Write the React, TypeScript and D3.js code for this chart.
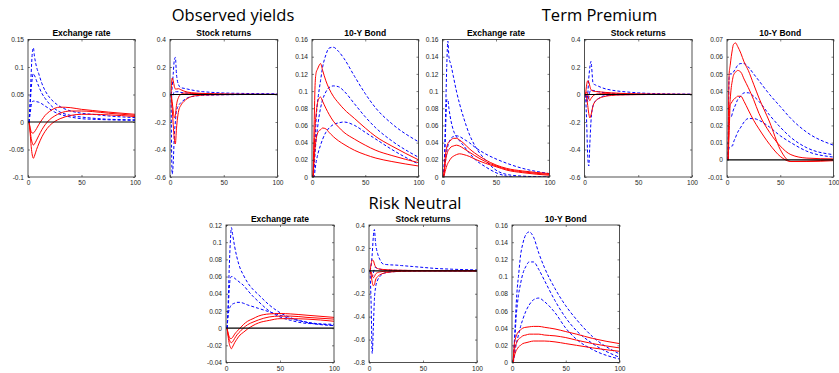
import React, { useEffect, useRef } from "react";
import * as d3 from "d3";

const steps = [1, 2, 3, 4, 5, 6, 8, 10, 13, 16, 20, 25, 30, 40, 50, 60, 75, 100];
const xTicks = [0, 50, 100];

// Observed yields
const obsFxRed = [
  [0, -0.01, -0.018, -0.02, -0.02, -0.018, -0.012, -0.005, 0.004, 0.012, 0.019, 0.025, 0.027, 0.026, 0.023, 0.021, 0.018, 0.014],
  [0, -0.015, -0.03, -0.038, -0.042, -0.04, -0.033, -0.025, -0.014, -0.005, 0.004, 0.011, 0.016, 0.02, 0.02, 0.019, 0.016, 0.012],
  [0, -0.02, -0.045, -0.06, -0.066, -0.062, -0.05, -0.04, -0.027, -0.017, -0.007, 0.001, 0.006, 0.012, 0.014, 0.014, 0.013, 0.01],
];
const obsFxBlue = [
  [0, 0.04, 0.09, 0.125, 0.135, 0.12, 0.1, 0.088, 0.07, 0.057, 0.045, 0.035, 0.028, 0.02, 0.016, 0.014, 0.011, 0.008],
  [0, 0.03, 0.06, 0.08, 0.088, 0.085, 0.075, 0.065, 0.052, 0.043, 0.033, 0.024, 0.018, 0.012, 0.009, 0.007, 0.005, 0.004],
  [0, 0.015, 0.03, 0.037, 0.038, 0.038, 0.037, 0.036, 0.033, 0.029, 0.024, 0.018, 0.014, 0.009, 0.006, 0.005, 0.004, 0.003],
];
const obsStockRed = [
  [0, 0.12, 0.1, 0.06, 0.04, 0.04, 0.042, 0.035, 0.025, 0.018, 0.013, 0.01, 0.008, 0.005, 0.003, 0.002, 0.001, 0.001],
  [0, -0.05, -0.12, -0.17, -0.15, -0.08, -0.02, 0, 0.01, 0.01, 0.008, 0.006, 0.005, 0.003, 0.002, 0.001, 0.001, 0],
  [0, -0.1, -0.22, -0.32, -0.36, -0.25, -0.12, -0.08, -0.05, -0.03, -0.015, -0.008, -0.004, -0.002, -0.001, 0, 0, 0],
];
const obsStockBlue = [
  [0, 0.05, 0.15, 0.25, 0.27, 0.15, 0.07, 0.05, 0.045, 0.04, 0.033, 0.026, 0.021, 0.015, 0.011, 0.009, 0.007, 0.005],
  [0, -0.02, 0, 0.02, 0.02, 0.02, 0.02, 0.015, 0.012, 0.01, 0.008, 0.006, 0.005, 0.004, 0.003, 0.002, 0.002, 0.001],
  [0, -0.58, -0.5, -0.3, -0.2, -0.12, -0.08, -0.06, -0.04, -0.025, -0.015, -0.01, -0.006, -0.004, -0.002, -0.001, 0, 0],
];
const obsBondRed = [
  [0, 0.06, 0.11, 0.122, 0.125, 0.128, 0.132, 0.124, 0.112, 0.103, 0.094, 0.086, 0.079, 0.068, 0.057, 0.047, 0.036, 0.02],
  [0, 0.03, 0.06, 0.075, 0.085, 0.09, 0.093, 0.088, 0.08, 0.073, 0.065, 0.058, 0.052, 0.044, 0.037, 0.031, 0.025, 0.0167],
  [0, 0.02, 0.035, 0.045, 0.05, 0.053, 0.055, 0.057, 0.056, 0.052, 0.047, 0.042, 0.038, 0.031, 0.026, 0.022, 0.018, 0.0128],
];
const obsBondBlue = [
  [0, 0.02, 0.045, 0.07, 0.085, 0.095, 0.112, 0.128, 0.142, 0.15, 0.151, 0.146, 0.138, 0.117, 0.097, 0.08, 0.062, 0.041],
  [0, 0.01, 0.03, 0.045, 0.055, 0.065, 0.08, 0.09, 0.099, 0.104, 0.106, 0.105, 0.1, 0.085, 0.07, 0.057, 0.042, 0.023],
  [0, 0, 0.01, 0.018, 0.024, 0.029, 0.037, 0.044, 0.052, 0.057, 0.061, 0.063, 0.064, 0.06, 0.052, 0.044, 0.032, 0.015],
];

// Term Premium
const tpFxRed = [
  [0, 0.015, 0.028, 0.035, 0.039, 0.041, 0.043, 0.045, 0.045, 0.043, 0.039, 0.033, 0.028, 0.02, 0.014, 0.01, 0.007, 0.004],
  [0, 0.01, 0.02, 0.026, 0.03, 0.032, 0.035, 0.036, 0.037, 0.036, 0.033, 0.029, 0.025, 0.018, 0.013, 0.009, 0.006, 0.003],
  [0, 0.004, 0.009, 0.013, 0.016, 0.018, 0.022, 0.024, 0.026, 0.027, 0.026, 0.024, 0.021, 0.016, 0.012, 0.008, 0.005, 0.002],
];
const tpFxBlue = [
  [0, 0.03, 0.08, 0.13, 0.158, 0.14, 0.13, 0.118, 0.1, 0.085, 0.068, 0.05, 0.037, 0.02, 0.008, 0.003, 0.001, 0],
  [0, 0.02, 0.06, 0.09, 0.09, 0.08, 0.065, 0.055, 0.047, 0.042, 0.036, 0.028, 0.021, 0.012, 0.005, 0.001, -0.001, -0.001],
  [0, 0.01, 0.02, 0.03, 0.036, 0.04, 0.045, 0.047, 0.048, 0.047, 0.044, 0.04, 0.035, 0.027, 0.021, 0.016, 0.01, 0.004],
];
const tpStockRed = [
  [0, 0.07, 0.1, 0.09, 0.06, 0.035, 0.025, 0.022, 0.02, 0.018, 0.015, 0.012, 0.01, 0.006, 0.004, 0.003, 0.002, 0.001],
  [0, 0.02, 0, -0.03, -0.045, -0.03, -0.01, 0, 0.005, 0.006, 0.006, 0.005, 0.004, 0.003, 0.002, 0.001, 0.001, 0],
  [0, -0.03, -0.08, -0.14, -0.17, -0.15, -0.08, -0.05, -0.03, -0.02, -0.012, -0.007, -0.004, -0.002, -0.001, 0, 0, 0],
];
const tpStockBlue = [
  [0, -0.05, 0, 0.12, 0.2, 0.24, 0.08, 0.07, 0.06, 0.05, 0.04, 0.032, 0.026, 0.018, 0.012, 0.008, 0.005, 0.003],
  [0, -0.02, -0.05, -0.02, 0.02, 0.03, 0.03, 0.025, 0.02, 0.016, 0.012, 0.009, 0.007, 0.004, 0.003, 0.002, 0.001, 0],
  [0, -0.2, -0.45, -0.52, -0.35, -0.2, -0.08, -0.05, -0.03, -0.015, -0.008, -0.004, -0.002, -0.001, 0, 0, 0, 0],
];
const tpBondRed = [
  [0, 0.05, 0.055, 0.06, 0.064, 0.067, 0.068, 0.066, 0.062, 0.057, 0.052, 0.044, 0.036, 0.022, 0.006, -0.001, -0.0008, 0],
  [0, 0.025, 0.035, 0.042, 0.046, 0.049, 0.051, 0.052, 0.051, 0.047, 0.042, 0.035, 0.027, 0.016, 0.008, 0.003, 0.001, 0.0005],
  [0, 0.015, 0.032, 0.033, 0.034, 0.035, 0.036, 0.037, 0.037, 0.034, 0.029, 0.023, 0.018, 0.009, 0.002, -0.001, -0.001, -0.0005],
];
const tpBondBlue = [
  [0, 0.048, 0.05, 0.05, 0.05, 0.051, 0.053, 0.055, 0.056, 0.056, 0.054, 0.05, 0.046, 0.038, 0.031, 0.024, 0.016, 0.0085],
  [0, 0.024, 0.025, 0.025, 0.027, 0.029, 0.032, 0.035, 0.037, 0.039, 0.039, 0.037, 0.034, 0.026, 0.019, 0.013, 0.007, 0.003],
  [0, 0.007, 0.0075, 0.008, 0.008, 0.01, 0.013, 0.016, 0.019, 0.022, 0.024, 0.024, 0.023, 0.019, 0.014, 0.01, 0.005, 0.0016],
];

// Risk Neutral
const rnFxRed = [
  [0, -0.006, -0.01, -0.012, -0.012, -0.011, -0.007, -0.004, 0, 0.004, 0.008, 0.011, 0.014, 0.0165, 0.017, 0.0165, 0.015, 0.0125],
  [0, -0.008, -0.013, -0.016, -0.017, -0.016, -0.012, -0.008, -0.004, 0, 0.004, 0.007, 0.0095, 0.013, 0.014, 0.014, 0.0125, 0.0105],
  [0, -0.01, -0.018, -0.022, -0.024, -0.022, -0.017, -0.013, -0.008, -0.005, -0.001, 0.003, 0.006, 0.009, 0.011, 0.011, 0.0105, 0.008],
];
const rnFxBlue = [
  [0, 0.03, 0.07, 0.1, 0.117, 0.11, 0.095, 0.083, 0.07, 0.062, 0.053, 0.045, 0.039, 0.027, 0.018, 0.012, 0.0065, 0.003],
  [0, 0.02, 0.045, 0.058, 0.06, 0.06, 0.058, 0.056, 0.053, 0.05, 0.044, 0.037, 0.031, 0.02, 0.013, 0.009, 0.0055, 0.0045],
  [0, 0.015, 0.022, 0.025, 0.027, 0.028, 0.029, 0.03, 0.03, 0.029, 0.027, 0.025, 0.023, 0.019, 0.015, 0.011, 0.007, 0.003],
];
const rnStockRed = [
  [0, 0.06, 0.095, 0.09, 0.06, 0.035, 0.02, 0.015, 0.012, 0.01, 0.008, 0.006, 0.005, 0.003, 0.002, 0.001, 0.001, 0],
  [0, -0.01, -0.04, -0.06, -0.05, -0.03, -0.015, -0.01, -0.005, -0.003, -0.002, -0.001, 0, 0, 0, 0, 0, 0],
  [0, -0.04, -0.1, -0.13, -0.12, -0.08, -0.05, -0.035, -0.022, -0.015, -0.01, -0.006, -0.004, -0.002, -0.001, 0, 0, 0],
];
const rnStockBlue = [
  [0, 0.05, 0.15, 0.3, 0.36, 0.25, 0.15, 0.1, 0.06, 0.055, 0.052, 0.05, 0.046, 0.038, 0.03, 0.022, 0.015, 0.008],
  [0, -0.02, -0.05, -0.02, 0.02, 0.03, 0.02, 0.015, 0.01, 0.008, 0.006, 0.005, 0.004, 0.003, 0.002, 0.001, 0, 0],
  [0, -0.3, -0.72, -0.5, -0.25, -0.15, -0.08, -0.05, -0.025, -0.015, -0.01, -0.006, -0.004, -0.002, -0.001, 0, 0, 0],
];
const rnBondRed = [
  [0, 0.02, 0.027, 0.031, 0.034, 0.036, 0.038, 0.04, 0.041, 0.0415, 0.042, 0.042, 0.041, 0.039, 0.036, 0.033, 0.028, 0.022],
  [0, 0.013, 0.019, 0.022, 0.025, 0.027, 0.029, 0.031, 0.032, 0.033, 0.033, 0.033, 0.032, 0.031, 0.029, 0.026, 0.022, 0.017],
  [0, 0.007, 0.011, 0.014, 0.016, 0.018, 0.02, 0.022, 0.023, 0.024, 0.025, 0.025, 0.025, 0.024, 0.022, 0.02, 0.017, 0.013],
];
const rnBondBlue = [
  [0, 0.02, 0.045, 0.07, 0.088, 0.1, 0.125, 0.138, 0.149, 0.152, 0.146, 0.127, 0.111, 0.086, 0.066, 0.05, 0.03, 0.01],
  [0, 0.015, 0.035, 0.055, 0.068, 0.078, 0.092, 0.103, 0.112, 0.117, 0.117, 0.108, 0.096, 0.072, 0.052, 0.037, 0.022, 0.006],
  [0, 0.005, 0.014, 0.022, 0.027, 0.032, 0.042, 0.05, 0.06, 0.067, 0.073, 0.075, 0.071, 0.058, 0.04, 0.027, 0.015, 0.004],
];

// y tick values per variable
const fxTicksObs = [-0.1, -0.05, 0, 0.05, 0.1, 0.15];
const stockTicks = [-0.6, -0.4, -0.2, 0, 0.2, 0.4];
const bondTicks = [0, 0.02, 0.04, 0.06, 0.08, 0.1, 0.12, 0.14, 0.16];
const tpBondTicks = [-0.01, 0, 0.01, 0.02, 0.03, 0.04, 0.05, 0.06, 0.07];
const rnFxTicks = [-0.04, -0.02, 0, 0.02, 0.04, 0.06, 0.08, 0.1, 0.12];
const rnStockTicks = [-0.8, -0.6, -0.4, -0.2, 0, 0.2, 0.4];

const groupTitles = [
  { text: "Observed yields", x: 233, y: 21 },
  { text: "Term Premium", x: 599.5, y: 21 },
  { text: "Risk Neutral", x: 415, y: 208.5 },
];

const panels = [
  { title: "Exchange rate", red: obsFxRed, blue: obsFxBlue, yTicks: fxTicksObs, box: [28, 39.5, 107, 137.5] },
  { title: "Stock returns", red: obsStockRed, blue: obsStockBlue, yTicks: stockTicks, box: [170, 39.5, 107.5, 137.5] },
  { title: "10-Y Bond", red: obsBondRed, blue: obsBondBlue, yTicks: bondTicks, box: [312, 39.5, 106.5, 137.5] },
  { title: "Exchange rate", red: tpFxRed, blue: tpFxBlue, yTicks: bondTicks, box: [442.5, 39.5, 107, 137.5] },
  { title: "Stock returns", red: tpStockRed, blue: tpStockBlue, yTicks: stockTicks, box: [584.5, 39.5, 107.5, 137.5] },
  { title: "10-Y Bond", red: tpBondRed, blue: tpBondBlue, yTicks: tpBondTicks, box: [727, 39.5, 106.5, 137.5] },
  { title: "Exchange rate", red: rnFxRed, blue: rnFxBlue, yTicks: rnFxTicks, box: [226, 225, 108, 137.5] },
  { title: "Stock returns", red: rnStockRed, blue: rnStockBlue, yTicks: rnStockTicks, box: [369, 225, 108, 137.5] },
  { title: "10-Y Bond", red: rnBondRed, blue: rnBondBlue, yTicks: bondTicks, box: [512, 225, 107.5, 137.5] },
];

const axisColor = "#262626";
const fmt = (v: number) => String(+v.toFixed(3));

const App: React.FC = () => {
  const svgRef = useRef<SVGSVGElement>(null);

  useEffect(() => {
    if (!svgRef.current) return;
    const svg = d3.select(svgRef.current);
    svg.selectAll("*").remove();

    svg.append("rect").attr("width", 839).attr("height", 373).attr("fill", "#fff");

    // group titles
    svg
      .selectAll("text.group")
      .data(groupTitles)
      .enter()
      .append("text")
      .attr("class", "group")
      .attr("x", d => d.x)
      .attr("y", d => d.y)
      .attr("text-anchor", "middle")
      .style("font-family", "'Open Sans', sans-serif")
      .style("font-size", "16.5px")
      .attr("fill", "#000")
      .text(d => d.text);

    panels.forEach((p, i) => {
      const [left, top, w, h] = p.box;
      const yDomain = d3.extent(p.yTicks) as [number, number];

      const x = d3.scaleLinear().domain([0, 100]).range([0, w]);
      const y = d3.scaleLinear().domain(yDomain).range([h, 0]);

      const g = svg.append("g").attr("transform", `translate(${left},${top})`);

      const clipId = `clip-${i}`;
      g.append("clipPath").attr("id", clipId).append("rect").attr("width", w).attr("height", h);

      const plot = g.append("g").attr("clip-path", `url(#${clipId})`);

      const line = d3
        .line<number>()
        .x((_, j) => x(steps[j]))
        .y(d => y(d))
        .curve(d3.curveMonotoneX);

      p.blue.forEach(s => {
        plot
          .append("path")
          .attr("d", line(s))
          .attr("fill", "none")
          .attr("stroke", "#0000ff")
          .attr("stroke-width", 1)
          .attr("stroke-dasharray", "3,2");
      });

      p.red.forEach(s => {
        plot
          .append("path")
          .attr("d", line(s))
          .attr("fill", "none")
          .attr("stroke", "#ff0000")
          .attr("stroke-width", 1);
      });

      // zero line
      plot
        .append("line")
        .attr("x1", x(0))
        .attr("x2", x(100))
        .attr("y1", y(0))
        .attr("y2", y(0))
        .attr("stroke", "#000")
        .attr("stroke-width", 1.2);

      // axes with inward ticks on all four sides
      const styleAxis = (sel: d3.Selection<SVGGElement, unknown, null, undefined>) => {
        sel.select(".domain").remove();
        sel.selectAll(".tick line").attr("stroke", axisColor).attr("stroke-width", 0.6);
        sel
          .selectAll("text")
          .attr("fill", axisColor)
          .style("font-family", "'Liberation Sans', Arial, sans-serif")
          .style("font-size", "6.6px");
      };

      g.append("g")
        .attr("transform", `translate(0,${h})`)
        .call(d3.axisBottom(x).tickValues(xTicks).tickSize(-2).tickSizeOuter(0).tickPadding(3.5).tickFormat(d => fmt(+d)))
        .call(styleAxis);

      g.append("g")
        .call(d3.axisTop(x).tickValues(xTicks).tickSize(-2).tickSizeOuter(0).tickFormat(() => ""))
        .call(styleAxis);

      g.append("g")
        .call(d3.axisLeft(y).tickValues(p.yTicks).tickSize(-2).tickSizeOuter(0).tickPadding(4).tickFormat(d => fmt(+d)))
        .call(styleAxis);

      g.append("g")
        .attr("transform", `translate(${w},0)`)
        .call(d3.axisRight(y).tickValues(p.yTicks).tickSize(-2).tickSizeOuter(0).tickFormat(() => ""))
        .call(styleAxis);

      // box
      g.append("rect")
        .attr("width", w)
        .attr("height", h)
        .attr("fill", "none")
        .attr("stroke", axisColor)
        .attr("stroke-width", 0.8);

      // panel title
      g.append("text")
        .attr("x", w / 2)
        .attr("y", -3.5)
        .attr("text-anchor", "middle")
        .style("font-family", "'Liberation Sans', Arial, sans-serif")
        .style("font-size", "8.5px")
        .style("font-weight", "bold")
        .attr("fill", "#000")
        .text(p.title);
    });
  }, []);

  return (
    <svg
      ref={svgRef}
      width={839}
      height={373}
      style={{ position: "absolute", left: 0, top: 0, display: "block" }}
    ></svg>
  );
};

export default App;
